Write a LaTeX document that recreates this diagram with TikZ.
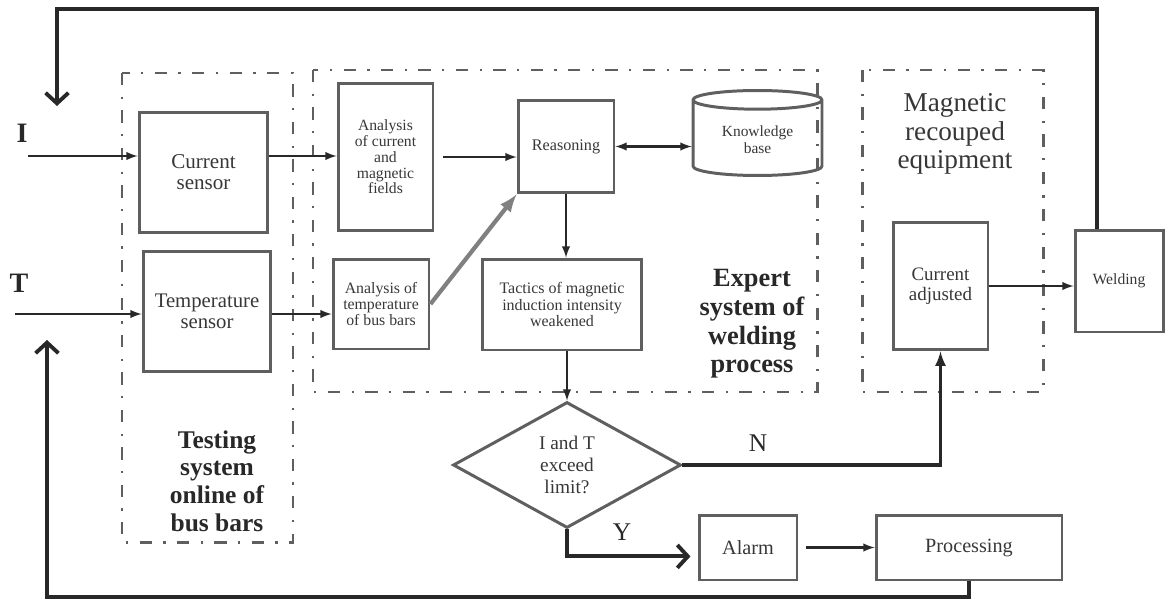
\documentclass[tikz,border=0pt]{standalone}
\usepackage{fontspec}
\setmainfont{Liberation Serif}
\usepackage{xcolor}
\usetikzlibrary{arrows, arrows.meta}
\usetikzlibrary{shapes.geometric}
\definecolor{bgray}{RGB}{95,95,95}
\definecolor{tgray}{RGB}{55,55,55}
\definecolor{ldark}{RGB}{40,40,40}

\tikzset{
blk/.style={draw=bgray, line width=1.7pt, inner sep=1pt, align=center, text=tgray},
grp/.style={draw=bgray, line width=1.7pt, dash pattern=on 7pt off 6.5pt on 1.3pt off 6.5pt},
flow/.style={draw=ldark, line width=1.2pt, -latex},
fb/.style={draw=ldark, line width=2.2pt},
fbtip/.style={-{Straight Barb[length=6pt, width=13pt]}},
lbl/.style={text=ldark, align=center},
}

\begin{document}
\begin{tikzpicture}[x=0.02cm, y=-0.02cm]
\useasboundingbox (0,0) rectangle (1166,605);

% dash-dot frames
\foreach \xa/\ya/\xb/\yb in {122/73/293/542, 313/70/817/392, 862/70/1043/392}{
\draw[grp] (\xa,\ya) rectangle (\xb,\yb);
}

\node[blk, minimum width=2.58cm, minimum height=2.42cm, font=\fontsize{12}{12}\selectfont] (cs) at (203.5,172.5) {Current\\sensor};
\node[blk, minimum width=2.56cm, minimum height=2.42cm, font=\fontsize{11.8}{12}\selectfont] (ts) at (207,311.5) {Temperature\\sensor};
\node[blk, minimum width=1.9cm, minimum height=2.96cm, font=\fontsize{8.9}{9}\selectfont] (acm) at (385.5,157) {Analysis\\of current\\and\\magnetic\\fields};
\node[blk, minimum width=1.92cm, minimum height=1.8cm, font=\fontsize{9}{9}\selectfont] (atb) at (381,304) {Analysis of\\temperature\\of bus bars};
\node[blk, minimum width=1.92cm, minimum height=1.86cm, font=\fontsize{9.2}{9.2}\selectfont] (rea) at (566,146.5) {Reasoning};
\node[blk, minimum width=3.2cm, minimum height=1.82cm, font=\fontsize{9.1}{9.2}\selectfont] (tac) at (562,304.5) {Tactics of magnetic\\induction intensity\\weakened};
\node[blk, cylinder, shape border rotate=90, aspect=0.25, minimum width=2.58cm, minimum height=1.7cm, font=\fontsize{8.8}{9.6}\selectfont] (kb) at (757.5,139.5) {Knowledge\\base};
\node[blk, minimum width=1.9cm, minimum height=2.56cm, font=\fontsize{10.8}{11.3}\selectfont] (cad) at (940.5,286) {Current\\adjusted};
\node[blk, minimum width=1.76cm, minimum height=2.04cm, font=\fontsize{8.9}{9}\selectfont] (wel) at (1119,281) {Welding};
\node[blk, diamond, inner sep=0pt, minimum width=4.56cm, minimum height=2.52cm, font=\fontsize{11}{12.5}\selectfont] (dia) at (567,465) {I and T\\exceed\\limit?};
\node[blk, minimum width=1.96cm, minimum height=1.3cm, font=\fontsize{11.5}{12}\selectfont] (alm) at (748,547.5) {Alarm};
\node[blk, minimum width=3.72cm, minimum height=1.3cm, font=\fontsize{11.5}{12}\selectfont] (pro) at (969,547.5) {Processing};

\node[lbl, font=\bfseries\fontsize{16}{16}\selectfont] (lI) at (22,133) {I};
\node[lbl, font=\bfseries\fontsize{16}{16}\selectfont] (lT) at (19,283) {T};
\node[lbl, font=\bfseries\fontsize{14.5}{15.7}\selectfont] (ltest) at (217,481) {Testing\\system\\online of\\bus bars};
\node[lbl, font=\bfseries\fontsize{15}{16.3}\selectfont] (lexp) at (752,324) {Expert\\system of\\welding\\process};
\node[lbl, text=tgray, font=\fontsize{15.5}{16.4}\selectfont] (lmag) at (955,134) {Magnetic\\recouped\\equipment};
\node[lbl, font=\fontsize{14.5}{15}\selectfont] (lN) at (758,443) {N};
\node[lbl, font=\fontsize{14.5}{15}\selectfont] (lY) at (622,532) {Y};

\coordinate (Iin) at (28,156);
\coordinate (Tin) at (15,314);
\coordinate (fbT) at (1097,9);
\coordinate (fbL) at (57,9);
\coordinate (fbLend) at (57,106);
\coordinate (fbB) at (47,597);
\coordinate (fbBend) at (47,340);

\draw[flow] (Iin) -- (Iin -| cs.west);
\draw[flow] (Tin) -- (Tin -| ts.west);
\draw[flow] (Iin -| cs.east) -- (Iin -| acm.west);
\draw[flow] (Tin -| ts.east) -- (Tin -| atb.west);
\draw[flow, shorten <=5pt] (acm.east) -- (acm.east -| rea.west);
\draw[draw=gray, line width=2.4pt, -latex] (atb.east) -- (rea.south west);
\draw[flow, latex-latex] (rea.east) -- (rea.east -| kb.west);
\draw[flow] (rea.south) -- (rea.south |- tac.north);
\draw[flow] (dia.north |- tac.south) -- (dia.north);
\draw[flow] (cad.east) -- (cad.east -| wel.west);
\draw[fb, line width=1.8pt, -latex] (dia.east) -| (cad.south);
\draw[fb, fbtip, shorten >=4pt] (dia.south) |- (alm.190);
\draw[flow, shorten <=4pt] (alm.east) -- (pro.west);

% feedback loops
\draw[fb, fbtip] (wel.north -| fbT) -- (fbT) -- (fbL) -- (fbLend);
\draw[fb, fbtip] (pro.south) |- (fbB) -- (fbBend);

\end{tikzpicture}
\end{document}
